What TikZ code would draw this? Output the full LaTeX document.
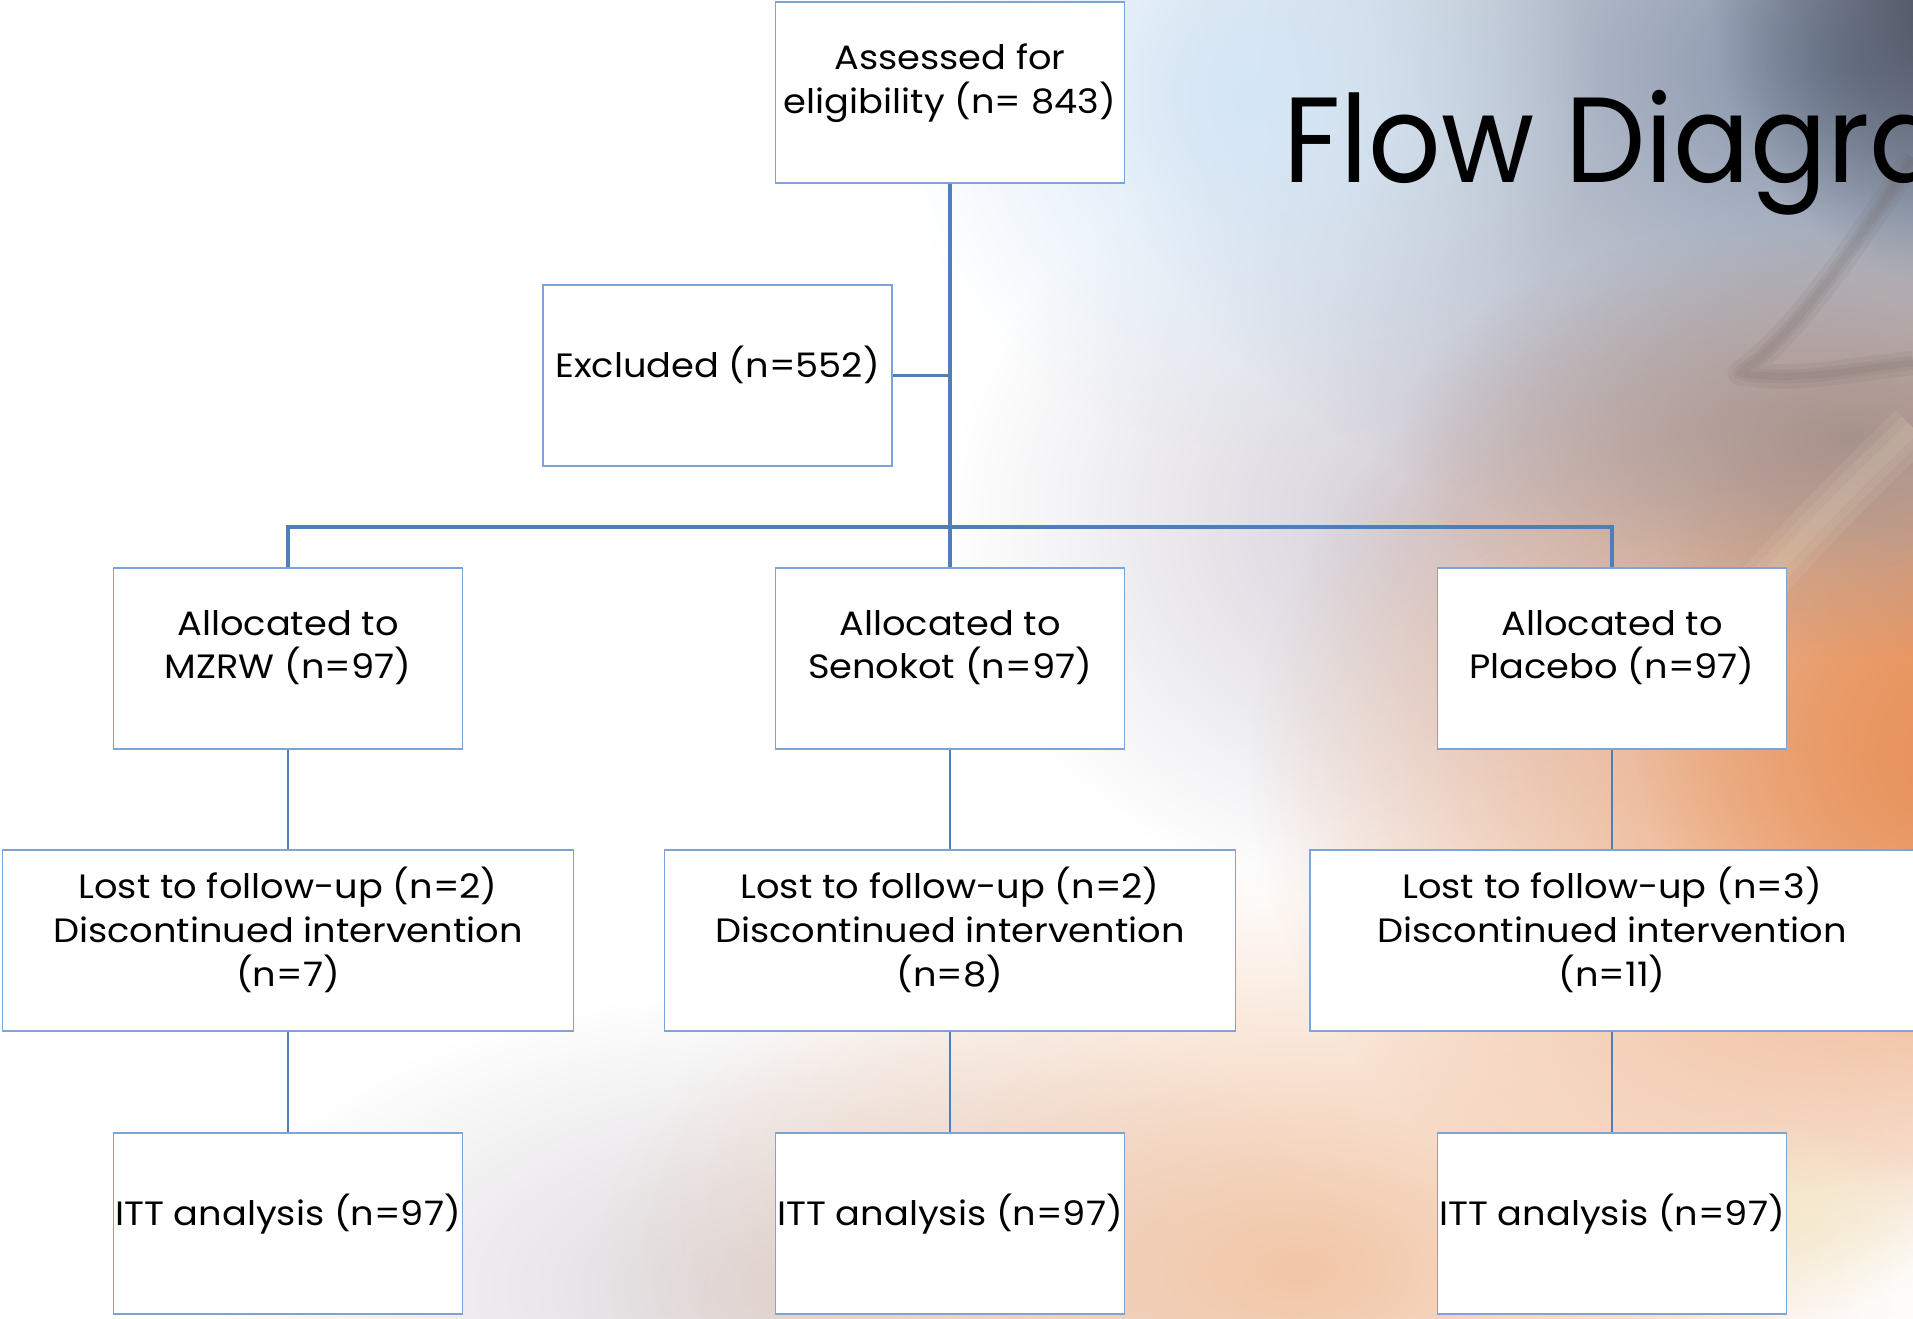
\documentclass[tikz,border=0pt]{standalone}
\usepackage{fontspec}
\setmainfont{Poppins}[FakeStretch=1.09]
\newfontfamily\titlefont{Poppins}[FakeStretch=0.937]
\usetikzlibrary{fadings}

\definecolor{boxline}{HTML}{7BA4D8}
\definecolor{linkline}{HTML}{4F7EB8}
\definecolor{bgorange}{HTML}{E8935C}
\definecolor{bgpeach}{HTML}{F2C6A6}
\definecolor{bgslate}{HTML}{7E8CA4}
\definecolor{bgdark}{HTML}{474C5A}
\definecolor{bgsky}{HTML}{D4E6F6}
\definecolor{bggrey}{HTML}{DAD6DA}
\definecolor{bglav}{HTML}{D0CCD6}
\definecolor{bgmauve}{HTML}{A8928C}
\definecolor{bgcream}{HTML}{F4EACB}

\tikzfading[name=softglow, inner color=transparent!0, outer color=transparent!100]

\tikzset{
  box/.style={draw=boxline, fill=white, line width=0.45pt, minimum width=3.49cm,
    minimum height=1.81cm, inner sep=0pt, align=center,
    font=\fontsize{9.6}{12.5}\selectfont,
    execute at end node={\rule[-0.28cm]{0pt}{0pt}}},
  widebox/.style={box, minimum width=5.71cm},
  link/.style={draw=linkline, line width=0.6pt},
  trunk/.style={draw=linkline, line width=1pt},
  glow/.style={fill=#1, path fading=softglow},
  streak/.style={draw=#1, opacity=0.09, line join=round}
}

\begin{document}
\begin{tikzpicture}
\path[use as bounding box, clip] (0,0) rectangle (19.13,13.18);

% background
\fill[white] (0,0) rectangle (19.13,13.18);
\fill[glow=bggrey] (8,0.3) ellipse (6 and 3);
\fill[glow=bglav] (14.5,8.0) ellipse (5 and 4);
\fill[glow=bgpeach] (13,0.5) ellipse (7 and 4);
\fill[glow=bgorange] (19.5,5.5) ellipse (7 and 5.5);
\fill[glow=bgorange] (19.8,6.2) ellipse (3.5 and 3.5);
\fill[glow=bgslate] (18.5,12.5) ellipse (7.5 and 5);
\fill[glow=bgsky] (12.5,12.2) ellipse (3.5 and 3.5);
\fill[glow=bgdark] (19.6,13.3) ellipse (2.5 and 3);
\fill[glow=bgmauve] (18.5,8.8) ellipse (4.5 and 2.2);
\fill[glow=white] (19.5,0.4) ellipse (3 and 1.2);
\fill[glow=bgcream] (17.6,1.0) ellipse (2 and 1);
% soft streaks
\foreach \w in {7,4,2}
  \draw[streak=bgmauve!60!black, line width=\w pt] (19.13,11.6) .. controls (18.4,10.5) and (17.9,9.8) .. (17.4,9.45) .. controls (18.0,9.35) and (18.6,9.5) .. (19.13,9.55);
\foreach \w in {14,9,4}
  \draw[streak=bgcream, line width=\w pt] (19.13,8.9) .. controls (18.4,8.2) and (17.8,7.6) .. (17.0,6.6);

% title
\node[anchor=base west, inner sep=0pt, font=\titlefont\fontsize{34.5}{40}\selectfont] (title) at (12.83,11.35) {Flow Diagram};

% top
\node[box] (assess) at (9.50,12.255) {Assessed for\\eligibility (n= 843)};
\node[box] (excl) at (7.175,9.425) {Excluded (n=552)};
\coordinate (fork) at (9.50,7.91);

% allocation
\node[box] (mzrw) at (2.88,6.595) {Allocated to\\MZRW (n=97)};
\node[box] (senokot) at (9.50,6.595) {Allocated to\\Senokot (n=97)};
\node[box] (placebo) at (16.12,6.595) {Allocated to\\Placebo (n=97)};

% follow-up
\node[widebox] (lostA) at (2.88,3.775) {Lost to follow-up (n=2)\\Discontinued intervention\\(n=7)};
\node[widebox] (lostB) at (9.50,3.775) {Lost to follow-up (n=2)\\Discontinued intervention\\(n=8)};
\node[widebox, minimum width=6.04cm] (lostC) at (16.12,3.775) {Lost to follow-up (n=3)\\Discontinued intervention\\(n=11)};

% analysis
\node[box] (ittA) at (2.88,0.945) {ITT analysis (n=97)};
\node[box] (ittB) at (9.50,0.945) {ITT analysis (n=97)};
\node[box] (ittC) at (16.12,0.945) {ITT analysis (n=97)};

% connectors
\draw[trunk] (assess.south) -- (fork);
\draw[trunk] (excl.east) -- (excl.east -| fork);
\draw[trunk] (mzrw.north) |- (fork) -| (placebo.north);
\draw[trunk] (fork) -- (senokot.north);
\draw[link] (mzrw) -- (lostA);
\draw[link] (senokot) -- (lostB);
\draw[link] (placebo) -- (lostC);
\draw[link] (lostA) -- (ittA);
\draw[link] (lostB) -- (ittB);
\draw[link] (lostC) -- (ittC);
\end{tikzpicture}
\end{document}
